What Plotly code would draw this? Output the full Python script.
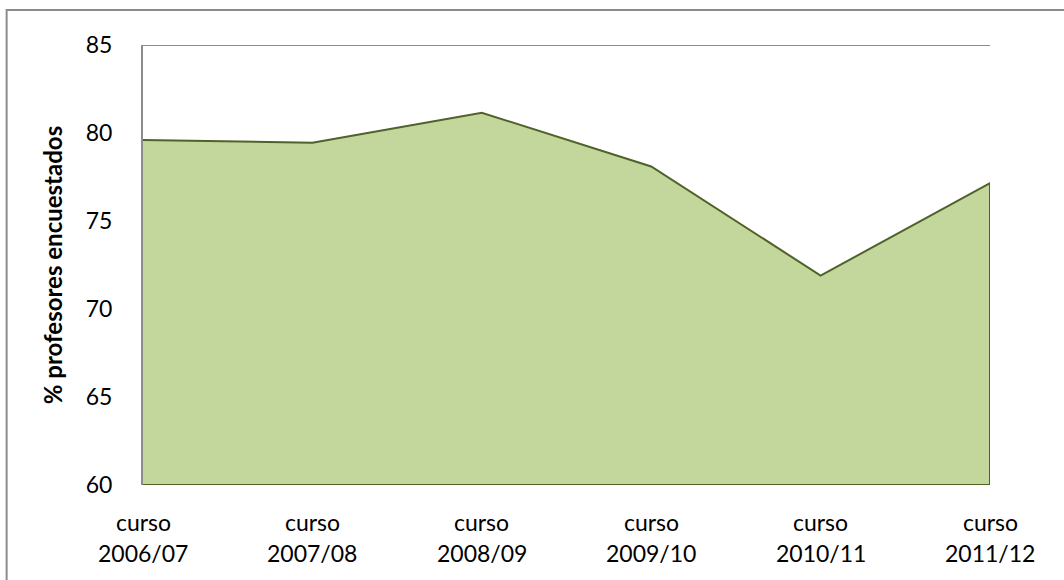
import plotly.graph_objects as go

categories = ["curso 2006/07", "curso 2007/08", "curso 2008/09", "curso 2009/10", "curso 2010/11", "curso 2011/12"]
values = [79.6, 79.45, 81.15, 78.1, 71.9, 77.15]
y_base = 60
y_ticks = [60, 65, 70, 75, 80, 85]
y_title = "% profesores encuestados"

line_words = [c.split(" ") for c in categories]
idx = list(range(len(categories)))

FONT = "Lato, Open Sans, sans-serif"

fig = go.Figure()
fig.add_trace(go.Scatter(
    x=idx + idx[::-1],
    y=values + [y_base] * len(values),
    mode="lines",
    fill="toself",
    fillcolor="#C3D69B",
    line=dict(color="#4F6228", width=2),
    hoverinfo="skip",
    showlegend=False,
))

fig.update_layout(
    width=1064, height=580,
    margin=dict(l=143, r=74, t=45, b=95),
    paper_bgcolor="white", plot_bgcolor="white",
    font=dict(family=FONT, size=23, color="black"),
    xaxis=dict(
        range=[0, len(categories) - 1],
        tickmode="array", tickvals=idx,
        showticklabels=False,
        showgrid=False, zeroline=False, showline=False, ticks="",
    ),
    yaxis=dict(
        range=[y_ticks[0], y_ticks[-1]],
        tickmode="array", tickvals=y_ticks,
        showgrid=False, zeroline=False,
        showline=True, linecolor="#8C8C8C", linewidth=2,
        ticks="", ticklabelstandoff=24,
        tickfont=dict(size=23),
        title=dict(text="<b>" + y_title + "</b>", font=dict(size=24), standoff=16),
    ),
    shapes=[
        dict(type="line", xref="paper", yref="y", x0=0, x1=1, y0=y_ticks[-1], y1=y_ticks[-1],
             line=dict(color="#8C8C8C", width=2)),
        dict(type="rect", xref="paper", yref="paper", x0=-0.161, x1=1.095, y0=-0.23, y1=1.0795,
             line=dict(color="#8C8C8C", width=2), layer="below"),
    ],
)

for i, w in zip(idx, line_words):
    fig.add_annotation(x=i, xref="x", y=0, yref="paper", yanchor="middle",
                       text=w[0], showarrow=False, font=dict(size=23), yshift=-37)
    fig.add_annotation(x=i, xref="x", y=0, yref="paper", yanchor="middle",
                       text=w[1], showarrow=False, font=dict(size=23), yshift=-68)

fig.write_html("out.html", config={"displayModeBar": False},
               post_script="document.body.style.margin='0px';")
